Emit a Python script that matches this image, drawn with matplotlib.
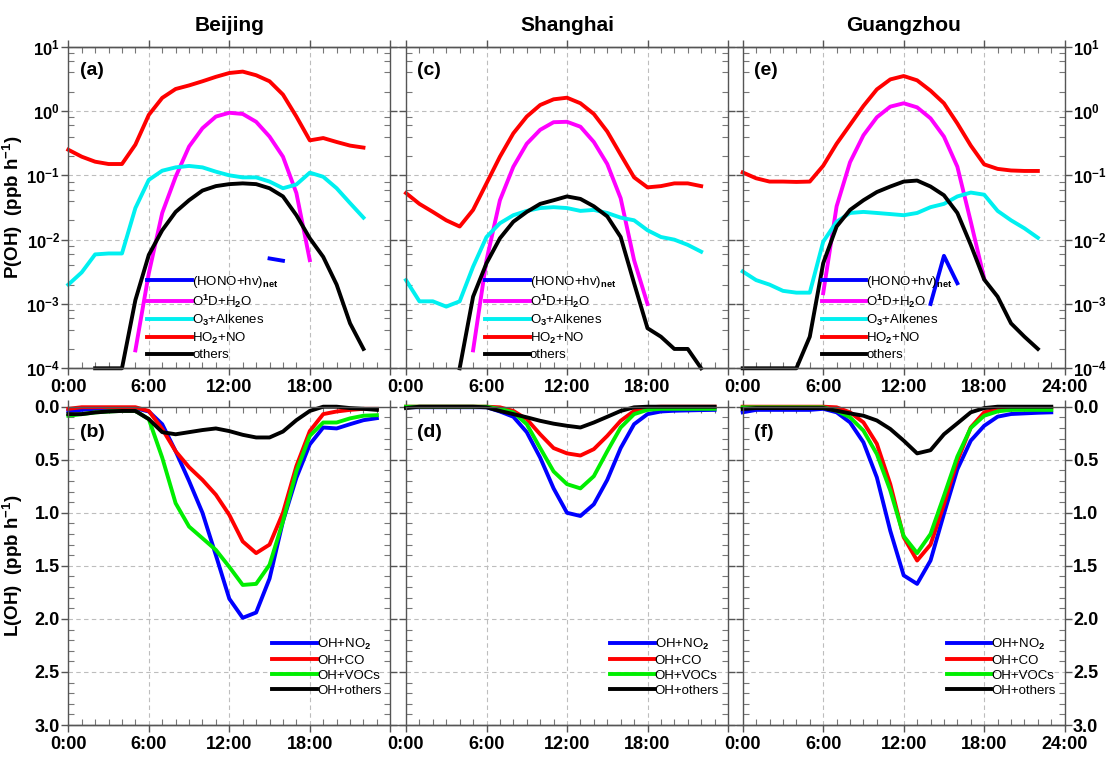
import numpy as np
import matplotlib
matplotlib.use("Agg")
import matplotlib.pyplot as plt
from matplotlib.ticker import MultipleLocator, LogLocator, FixedLocator, FixedFormatter, FuncFormatter, NullFormatter
from matplotlib.lines import Line2D

plt.rcParams['font.family'] = ['Liberation Sans', 'DejaVu Sans']
plt.rcParams['font.weight'] = 'bold'
plt.rcParams['mathtext.fontset'] = 'custom'
plt.rcParams['mathtext.rm'] = 'Liberation Sans'
plt.rcParams['mathtext.it'] = 'Liberation Sans:italic'
plt.rcParams['mathtext.bf'] = 'Liberation Sans:bold'

nan = np.nan

cities = ["Beijing", "Shanghai", "Guangzhou"]
hours_p = np.arange(23)   # production terms, 0..22 h
hours_l = np.arange(24)   # loss terms, 0..23 h

# ---- P(OH) (ppb/h), log scale ----
bj_hono = [nan]*15 + [5.1e-3, 4.7e-3] + [nan]*6
bj_o1d = [nan]*5 + [1.9e-4, 3.0e-3, 0.026, 0.095, 0.28, 0.54, 0.82, 0.94, 0.90, 0.68, 0.40,
                    0.195, 0.053, 0.0048] + [nan]*4
bj_o3 = [0.0020, 0.0031, 0.0059, 0.0061, 0.0061, 0.031, 0.085, 0.118, 0.133, 0.14, 0.133, 0.114,
         0.10, 0.093, 0.093, 0.080, 0.063, 0.072, 0.11, 0.095, 0.063, 0.037, 0.022]
bj_ho2 = [0.25, 0.195, 0.163, 0.15, 0.15, 0.30, 0.87, 1.6, 2.2, 2.5, 2.9, 3.4, 3.9, 4.1, 3.6, 2.9,
          1.8, 0.82, 0.35, 0.38, 0.33, 0.29, 0.27]
bj_oth = [nan, nan, 1e-4, 1e-4, 1e-4, 1.15e-3, 5.8e-3, 0.014, 0.027, 0.041, 0.058, 0.068, 0.073,
          0.075, 0.073, 0.063, 0.047, 0.024, 0.0105, 0.0054, 0.0020, 5.0e-4, 2.0e-4]

sh_hono = [nan]*23
sh_o1d = [nan]*5 + [1.9e-4, 4.8e-3, 0.041, 0.136, 0.31, 0.51, 0.67, 0.68, 0.57, 0.33, 0.15,
                    0.044, 4.8e-3, 1.0e-3] + [nan]*4
sh_o3 = [2.35e-3, 1.1e-3, 1.1e-3, 9.1e-4, 1.1e-3, 3.8e-3, 0.011, 0.018, 0.024, 0.028, 0.031, 0.032,
         0.031, 0.028, 0.029, 0.026, 0.022, 0.020, 0.014, 0.011, 0.010, 0.0083, 0.0065]
sh_ho2 = [0.053, 0.036, 0.027, 0.020, 0.016, 0.029, 0.075, 0.195, 0.45, 0.82, 1.24, 1.52, 1.61,
          1.32, 0.90, 0.48, 0.21, 0.093, 0.065, 0.068, 0.075, 0.075, 0.068]
sh_oth = [nan, nan, nan, nan, 1e-4, 1.3e-3, 4.3e-3, 0.0105, 0.019, 0.027, 0.036, 0.041, 0.047,
          0.043, 0.033, 0.023, 0.011, 2.1e-3, 4.2e-4, 3.1e-4, 2.0e-4, 2.0e-4, 1e-4]

gz_hono = [nan]*14 + [1.0e-3, 5.6e-3, 2.1e-3] + [nan]*6
gz_o1d = [nan]*6 + [1.47e-3, 0.033, 0.16, 0.42, 0.80, 1.17, 1.32, 1.14, 0.77, 0.40, 0.136,
                    0.019, 2.5e-3] + [nan]*4
gz_o3 = [3.2e-3, 2.35e-3, 2.0e-3, 1.6e-3, 1.5e-3, 1.5e-3, 9.3e-3, 0.019, 0.026, 0.027, 0.026,
         0.025, 0.024, 0.026, 0.032, 0.036, 0.047, 0.054, 0.050, 0.028, 0.020, 0.015, 0.0107]
gz_ho2 = [0.111, 0.090, 0.080, 0.080, 0.079, 0.080, 0.141, 0.31, 0.61, 1.2, 2.17, 3.1, 3.5, 3.0,
          2.07, 1.32, 0.64, 0.29, 0.148, 0.126, 0.119, 0.117, 0.117]
gz_oth = [1e-4, 1e-4, 1e-4, 1e-4, 1e-4, 3.1e-4, 4.3e-3, 0.016, 0.029, 0.041, 0.055, 0.067, 0.080,
          0.083, 0.067, 0.049, 0.026, 8.3e-3, 2.4e-3, 1.3e-3, 5.0e-4, 3.1e-4, 2.0e-4]

# ---- L(OH) (ppb/h), inverted axis ----
bj_no2 = [0.04, 0.03, 0.02, 0.017, 0.015, 0.015, 0.045, 0.165, 0.42, 0.70, 1.0, 1.40, 1.81, 1.99,
          1.94, 1.62, 1.08, 0.67, 0.355, 0.196, 0.205, 0.165, 0.127, 0.108]
bj_co = [0.02, 0.005, 0.005, 0.005, 0.005, 0.005, 0.04, 0.21, 0.42, 0.57, 0.69, 0.83, 1.02, 1.27,
         1.38, 1.30, 1.0, 0.56, 0.23, 0.07, 0.045, 0.03, 0.02, 0.02]
bj_voc = [0.085, 0.07, 0.054, 0.045, 0.04, 0.04, 0.117, 0.48, 0.91, 1.13, 1.24, 1.35, 1.51, 1.68,
          1.67, 1.49, 1.08, 0.61, 0.275, 0.149, 0.149, 0.11, 0.085, 0.08]
bj_lot = [0.07, 0.07, 0.054, 0.045, 0.04, 0.04, 0.117, 0.24, 0.26, 0.24, 0.22, 0.205, 0.23, 0.265,
          0.29, 0.29, 0.234, 0.127, 0.04, 0.0, 0.0, 0.013, 0.02, 0.03]

sh_no2 = [0.005, 0.005, 0.005, 0.005, 0.005, 0.005, 0.005, 0.045, 0.095, 0.24, 0.48, 0.77, 1.0,
          1.03, 0.92, 0.69, 0.39, 0.165, 0.07, 0.045, 0.038, 0.035, 0.032, 0.03]
sh_co = [0.0, 0.0, 0.0, 0.0, 0.0, 0.0, 0.0, 0.006, 0.04, 0.117, 0.26, 0.39, 0.44, 0.46, 0.40,
         0.275, 0.133, 0.04, 0.006, 0.0, 0.0, 0.0, 0.0, 0.0]
sh_voc = [0.0, 0.0, 0.0, 0.0, 0.0, 0.0, 0.0, 0.02, 0.054, 0.165, 0.39, 0.61, 0.73, 0.77, 0.655,
          0.42, 0.196, 0.07, 0.03, 0.02, 0.02, 0.02, 0.02, 0.02]
sh_lot = [0.013, 0.0, 0.0, 0.0, 0.0, 0.0, 0.006, 0.04, 0.07, 0.10, 0.133, 0.16, 0.18, 0.196, 0.149,
          0.095, 0.04, 0.006, 0.0, 0.0, 0.0, 0.0, 0.0, 0.0]

gz_no2 = [0.053, 0.03, 0.03, 0.03, 0.03, 0.03, 0.02, 0.053, 0.148, 0.336, 0.667, 1.17, 1.59, 1.67,
          1.45, 1.01, 0.59, 0.32, 0.18, 0.094, 0.069, 0.063, 0.057, 0.053]
gz_co = [0.0, 0.0, 0.0, 0.0, 0.0, 0.0, 0.0, 0.006, 0.053, 0.148, 0.35, 0.73, 1.23, 1.45, 1.30,
         0.92, 0.51, 0.195, 0.053, 0.022, 0.013, 0.013, 0.013, 0.013]
gz_voc = [0.006, 0.006, 0.006, 0.006, 0.006, 0.006, 0.006, 0.038, 0.10, 0.226, 0.447, 0.79, 1.22,
          1.38, 1.20, 0.84, 0.47, 0.20, 0.085, 0.044, 0.03, 0.03, 0.03, 0.03]
gz_lot = [0.022, 0.013, 0.013, 0.013, 0.013, 0.013, 0.013, 0.038, 0.063, 0.085, 0.13, 0.21, 0.32,
          0.44, 0.41, 0.26, 0.157, 0.053, 0.013, 0.0, 0.0, 0.0, 0.0, 0.0]

prod = {
    "Beijing": [bj_hono, bj_o1d, bj_o3, bj_ho2, bj_oth],
    "Shanghai": [sh_hono, sh_o1d, sh_o3, sh_ho2, sh_oth],
    "Guangzhou": [gz_hono, gz_o1d, gz_o3, gz_ho2, gz_oth],
}
loss = {
    "Beijing": [bj_no2, bj_co, bj_voc, bj_lot],
    "Shanghai": [sh_no2, sh_co, sh_voc, sh_lot],
    "Guangzhou": [gz_no2, gz_co, gz_voc, gz_lot],
}
prod_names = [r"(HONO+hv)$_{\mathrm{net}}$", r"O$^{\mathrm{1}}$D+H$_{\mathrm{2}}$O",
              r"O$_{\mathrm{3}}$+Alkenes", r"HO$_{\mathrm{2}}$+NO", "others"]
prod_colors = ["#0000ff", "#ff00ff", "#00f0f0", "#ff0000", "#000000"]
loss_names = [r"OH+NO$_{\mathrm{2}}$", "OH+CO", "OH+VOCs", "OH+others"]
loss_colors = ["#0000ff", "#ff0000", "#00ee00", "#000000"]
panel_tags = [("(a)", "(b)"), ("(c)", "(d)"), ("(e)", "(f)")]

W, H = 1106, 762
fig = plt.figure(figsize=(W / 100, H / 100), dpi=100)

x0_px = [68.3, 406.0, 742.7]
pw = 322.0
top_row = (46.7, 368.3)
bot_row = (406.7, 725.0)
ylab_x = (25 - 68.3) / pw   # right edge of the rotated y-label, axes fraction

def fig_rect(x, row):
    return [x / W, 1 - row[1] / H, pw / W, (row[1] - row[0]) / H]

def style_axes(ax, i):
    ax.set_xlim(0, 24)
    ax.xaxis.set_major_locator(FixedLocator([0, 6, 12, 18, 24]))
    labs = ["0:00", "6:00", "12:00", "18:00", "24:00" if i == 2 else ""]
    ax.xaxis.set_major_formatter(FixedFormatter(labs))
    ax.xaxis.set_minor_locator(MultipleLocator(1))
    ax.tick_params(which="major", direction="out", length=5, width=1, top=True, right=True,
                   color="#555555")
    ax.tick_params(axis="x", labelsize=13, pad=3)
    ax.tick_params(which="minor", direction="in", length=4, width=0.8, top=True, right=True,
                   color="#777777")
    ax.tick_params(axis="y", labelleft=(i == 0), labelright=(i == 2), pad=1)
    ax.grid(True, which="major", ls=(0, (4, 3)), color="#bdbdbd", lw=0.8)
    for s in ax.spines.values():
        s.set_color("#555555")
        s.set_linewidth(1.0)

leg_kw = dict(loc="lower left", frameon=False, borderpad=0, borderaxespad=0,
              handlelength=3.4, handletextpad=0.0, labelspacing=0.22,
              prop={"size": 9.5, "weight": "normal"})

for i, city in enumerate(cities):
    # production panel
    ax = fig.add_axes(fig_rect(x0_px[i], top_row))
    handles = []
    for vals, name, c in zip(prod[city], prod_names, prod_colors):
        ln, = ax.plot(hours_p, vals, color=c, lw=2.8, label=name, clip_on=False)
        handles.append(ln)
    ax.set_yscale("log")
    ax.set_ylim(1e-4, 10)
    ax.yaxis.set_major_locator(LogLocator(base=10, numticks=10))
    ax.yaxis.set_minor_locator(LogLocator(base=10, subs=(2, 4, 6, 8), numticks=10))
    ax.yaxis.set_minor_formatter(NullFormatter())
    ax.yaxis.set_major_formatter(FuncFormatter(
        lambda v, p: r"$\mathbf{10^{%d}}$" % int(round(np.log10(v)))))
    style_axes(ax, i)
    ax.tick_params(axis="y", labelsize=12)
    ax.set_title(city, fontsize=15, fontweight="bold", pad=11)
    ax.text(0.035, 0.927, panel_tags[i][0], transform=ax.transAxes, fontsize=14,
            fontweight="bold", va="center", ha="left")
    ax.legend(handles=handles, bbox_to_anchor=(0.245, 0.022), **leg_kw)
    if i == 0:
        ax.set_ylabel(r"P(OH)  (ppb h$^{\mathbf{-1}}$)", fontsize=13.5, fontweight="bold")
        ax.yaxis.set_label_coords(ylab_x, 0.5)

    # loss panel
    ax2 = fig.add_axes(fig_rect(x0_px[i], bot_row))
    handles2 = []
    for vals, name, c in zip(loss[city], loss_names, loss_colors):
        ln, = ax2.plot(hours_l, vals, color=c, lw=2.8, label=name, clip_on=False)
        handles2.append(ln)
    ax2.set_ylim(3.0, 0.0)
    ax2.yaxis.set_major_locator(MultipleLocator(0.5))
    ax2.yaxis.set_minor_locator(MultipleLocator(0.1))
    ax2.yaxis.set_major_formatter(FuncFormatter(lambda v, p: "%.1f" % v))
    style_axes(ax2, i)
    ax2.tick_params(axis="y", labelsize=13)
    ax2.text(0.035, 0.918, panel_tags[i][1], transform=ax2.transAxes, fontsize=14,
             fontweight="bold", va="center", ha="left")
    ax2.legend(handles=handles2, bbox_to_anchor=(0.633, 0.088), **leg_kw)
    if i == 0:
        ax2.set_ylabel(r"L(OH)  (ppb h$^{\mathbf{-1}}$)", fontsize=13.5, fontweight="bold")
        ax2.yaxis.set_label_coords(ylab_x, 0.5)

# frame lines bridging the small gaps between the panels
for ypx in [top_row[0], top_row[1], bot_row[1]]:
    fig.add_artist(Line2D([x0_px[0] / W, (x0_px[2] + pw) / W], [1 - ypx / H, 1 - ypx / H],
                          transform=fig.transFigure, color="#555555", lw=1.0))

fig.savefig("out.png", dpi=100)
